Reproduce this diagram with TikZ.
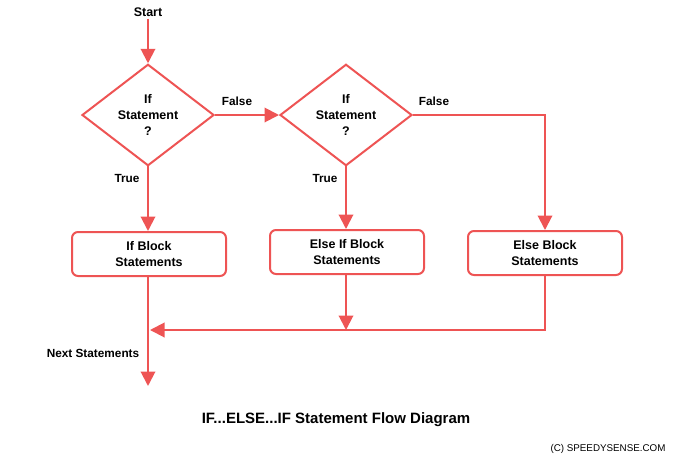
\documentclass[tikz,border=0pt]{standalone}
\usepackage{fontspec}
\setmainfont{Liberation Sans}
\usetikzlibrary{shapes.geometric,arrows.meta}
\definecolor{fc}{RGB}{238,84,84}
\begin{document}
\begin{tikzpicture}[x=1pt,y=-1pt,
  every node/.style={font=\bfseries\fontsize{12.5}{16}\selectfont, align=center, inner sep=0pt},
  conn/.style={draw=fc, line width=2pt},
  arr/.style={conn, -{Triangle[length=14.5pt,width=14.5pt]}},
  dec/.style={shape=diamond, draw=fc, line width=2pt, minimum width=132pt, minimum height=98pt, fill=white},
  blk/.style={shape=rectangle, draw=fc, line width=2pt, rounded corners=6pt, minimum width=154pt, minimum height=44pt, fill=white},
  lbl/.style={font=\bfseries\fontsize{11.8}{14}\selectfont}]
\useasboundingbox (0,0) rectangle (680,464);
\node (start) at (148,12) {Start};
\node[dec] (d1) at (148,115) {If\\Statement\\?};
\node[dec] (d2) at (346,115) {If\\Statement\\?};
\node[blk] (b1) at (149,254) {If Block\\Statements};
\node[blk] (b2) at (347,252) {Else If Block\\Statements};
\node[blk] (b3) at (545,253) {Else Block\\Statements};
\coordinate (c3) at (545,115);
\coordinate (j1) at (150,330);
\coordinate (j2) at (346,330);
\coordinate (end) at (148,386);
\coordinate (b1s) at (148,276);
\coordinate (b2s) at (346,274);
\coordinate (b3s) at (545,275);
\coordinate (d1b) at (148,164);
\coordinate (d2b) at (346,164);

\draw[arr] (start.south) ++(0,2) -- (d1.north);
\draw[arr] (d1.east) -- (d2.west);
\draw[arr] (d2.east) -- (c3) -- (b3.north);
\draw[arr] (d1b) -- (b1.north -| d1b);
\draw[arr] (d2b) -- (b2.north -| d2b);
\draw[arr] (b1s) -- (end);
\draw[arr] (b2s) -- (j2);
\draw[arr] (b3s) |- (j1);

\node[lbl] (f1) at (237,101) {False};
\node[lbl] (f2) at (434,101) {False};
\node[lbl] (t1) at (127,178) {True};
\node[lbl] (t2) at (325,178) {True};
\node[lbl] (ns) at (93,353) {Next Statements};
\node[font=\bfseries\fontsize{15}{18}\selectfont] (title) at (336,420) {IF...ELSE...IF Statement Flow Diagram};
\node[font=\fontsize{9.8}{12}\selectfont] (copy) at (608,449) {(C) SPEEDYSENSE.COM};
\end{tikzpicture}
\end{document}
